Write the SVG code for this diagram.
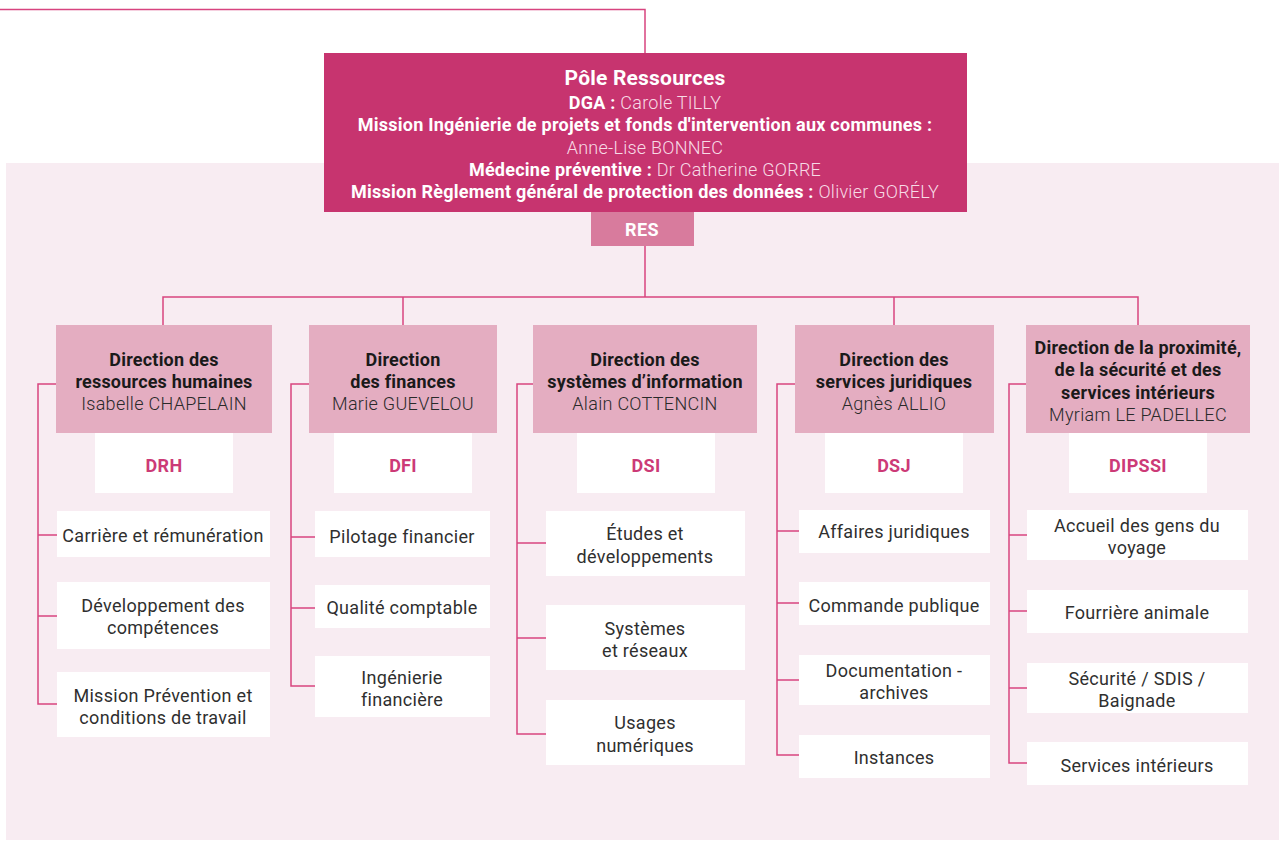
<svg xmlns="http://www.w3.org/2000/svg" width="1279" height="843" viewBox="0 0 1279 843">
<style>
.bg{fill:#f8ecf2}
.pole{fill:#c7346f}
.res{fill:#d87b9d}
.dir{fill:#e4adc1}
.w{fill:#ffffff}
.ln{fill:none;stroke:#d8447f;stroke-width:1.5}
text{font-family:Roboto,"Liberation Sans",sans-serif;text-anchor:middle;dominant-baseline:central}
.pt{font-size:21px;font-weight:700;fill:#ffffff;letter-spacing:0.2px}
.pb{font-size:18px;font-weight:700;fill:#ffffff;letter-spacing:0.25px}
.pl{font-size:18px;font-weight:300;fill:#f7dbe6;letter-spacing:0.25px}
.resT{font-size:18px;font-weight:700;fill:#ffffff;letter-spacing:0.5px}
.db{font-size:18px;font-weight:700;fill:#1a1a1a;letter-spacing:0.2px}
.dn{font-size:18px;font-weight:300;fill:#2a2a2a;letter-spacing:0.3px}
.code{font-size:18px;font-weight:700;fill:#cc3a77;letter-spacing:0.3px}
.it{font-size:18px;font-weight:400;fill:#2f2f2f;letter-spacing:0.3px}
</style>
<rect class="bg" x="6" y="163" width="1273" height="677"/>
<g id="connectors">
<polyline class="ln" points="0,9.5 645,9.5 645,53"/>
<line class="ln" x1="645" y1="245" x2="645" y2="297"/>
<polyline class="ln" points="163,325 163,297 1138,297 1138,325"/>
<line class="ln" x1="403" y1="297" x2="403" y2="325"/>
<line class="ln" x1="894" y1="297" x2="894" y2="325"/>
<polyline class="ln" points="56,384 38,384 38,704 57,704"/>
<line class="ln" x1="38" y1="535" x2="57" y2="535"/>
<line class="ln" x1="38" y1="616" x2="57" y2="616"/>
<polyline class="ln" points="309,384 291,384 291,686 315,686"/>
<line class="ln" x1="291" y1="537" x2="315" y2="537"/>
<line class="ln" x1="291" y1="608" x2="315" y2="608"/>
<polyline class="ln" points="533,384 517,384 517,734 546,734"/>
<line class="ln" x1="517" y1="543" x2="546" y2="543"/>
<line class="ln" x1="517" y1="638" x2="546" y2="638"/>
<polyline class="ln" points="795,384 777,384 777,755 799,755"/>
<line class="ln" x1="777" y1="531" x2="799" y2="531"/>
<line class="ln" x1="777" y1="603" x2="799" y2="603"/>
<line class="ln" x1="777" y1="680" x2="799" y2="680"/>
<polyline class="ln" points="1026,384 1009,384 1009,763 1027,763"/>
<line class="ln" x1="1009" y1="535" x2="1027" y2="535"/>
<line class="ln" x1="1009" y1="611" x2="1027" y2="611"/>
<line class="ln" x1="1009" y1="688" x2="1027" y2="688"/>
</g>
<g id="pole">
<rect class="pole" x="324" y="53" width="643" height="159"/>
<text class="pt" x="645" y="78">Pôle Ressources</text>
<text x="645" y="102"><tspan class="pb">DGA : </tspan><tspan class="pl">Carole TILLY</tspan></text>
<text class="pb" x="645" y="124">Mission Ingénierie de projets et fonds d'intervention aux communes :</text>
<text class="pl" x="645" y="147">Anne-Lise BONNEC</text>
<text x="645" y="169"><tspan class="pb">Médecine préventive : </tspan><tspan class="pl">Dr Catherine GORRE</tspan></text>
<text x="645" y="191"><tspan class="pb">Mission Règlement général de protection des données : </tspan><tspan class="pl">Olivier GORÉLY</tspan></text>
</g>
<g id="res">
<rect class="res" x="591" y="212" width="103" height="34"/>
<text class="resT" x="642" y="229">RES</text>
</g>
<g id="drh">
<rect class="dir" x="56" y="325" width="216" height="108"/>
<text class="db" x="164" y="359">Direction des</text>
<text class="db" x="164" y="381">ressources humaines</text>
<text class="dn" x="164" y="403">Isabelle CHAPELAIN</text>
<rect class="w" x="95" y="433" width="138" height="60"/>
<text class="code" x="164" y="465">DRH</text>
</g>
<g id="dfi">
<rect class="dir" x="309" y="325" width="188" height="108"/>
<text class="db" x="403" y="359">Direction</text>
<text class="db" x="403" y="381">des finances</text>
<text class="dn" x="403" y="403">Marie GUEVELOU</text>
<rect class="w" x="334" y="433" width="138" height="60"/>
<text class="code" x="403" y="465">DFI</text>
</g>
<g id="dsi">
<rect class="dir" x="533" y="325" width="224" height="108"/>
<text class="db" x="645" y="359">Direction des</text>
<text class="db" x="645" y="381">systèmes d’information</text>
<text class="dn" x="645" y="403">Alain COTTENCIN</text>
<rect class="w" x="577" y="433" width="138" height="60"/>
<text class="code" x="646" y="465">DSI</text>
</g>
<g id="dsj">
<rect class="dir" x="795" y="325" width="199" height="108"/>
<text class="db" x="894" y="359">Direction des</text>
<text class="db" x="894" y="381">services juridiques</text>
<text class="dn" x="894" y="403">Agnès ALLIO</text>
<rect class="w" x="825" y="433" width="138" height="60"/>
<text class="code" x="894" y="465">DSJ</text>
</g>
<g id="dipssi">
<rect class="dir" x="1026" y="325" width="224" height="108"/>
<text class="db" x="1138" y="347">Direction de la proximité,</text>
<text class="db" x="1138" y="369">de la sécurité et des</text>
<text class="db" x="1138" y="392">services intérieurs</text>
<text class="dn" x="1138" y="414">Myriam LE PADELLEC</text>
<rect class="w" x="1069" y="433" width="138" height="60"/>
<text class="code" x="1138" y="465">DIPSSI</text>
</g>
<g id="drh-items">
<rect class="w" x="57" y="511" width="213" height="46"/>
<text class="it" x="163" y="535">Carrière et rémunération</text>
<rect class="w" x="57" y="582" width="213" height="67"/>
<text class="it" x="163" y="605">Développement des</text>
<text class="it" x="163" y="627">compétences</text>
<rect class="w" x="57" y="672" width="213" height="65"/>
<text class="it" x="163" y="695">Mission Prévention et</text>
<text class="it" x="163" y="717">conditions de travail</text>
</g>
<g id="dfi-items">
<rect class="w" x="315" y="511" width="175" height="46"/>
<text class="it" x="402" y="536">Pilotage financier</text>
<rect class="w" x="315" y="585" width="175" height="43"/>
<text class="it" x="402" y="607">Qualité comptable</text>
<rect class="w" x="315" y="656" width="175" height="61"/>
<text class="it" x="402" y="677">Ingénierie</text>
<text class="it" x="402" y="699">financière</text>
</g>
<g id="dsi-items">
<rect class="w" x="546" y="511" width="199" height="65"/>
<text class="it" x="645" y="533">Études et</text>
<text class="it" x="645" y="556">développements</text>
<rect class="w" x="546" y="605" width="199" height="65"/>
<text class="it" x="645" y="628">Systèmes</text>
<text class="it" x="645" y="650">et réseaux</text>
<rect class="w" x="546" y="700" width="199" height="65"/>
<text class="it" x="645" y="722">Usages</text>
<text class="it" x="645" y="745">numériques</text>
</g>
<g id="dsj-items">
<rect class="w" x="799" y="510" width="191" height="43"/>
<text class="it" x="894" y="531">Affaires juridiques</text>
<rect class="w" x="799" y="582" width="191" height="43"/>
<text class="it" x="894" y="605">Commande publique</text>
<rect class="w" x="799" y="655" width="191" height="50"/>
<text class="it" x="894" y="670">Documentation -</text>
<text class="it" x="894" y="692">archives</text>
<rect class="w" x="799" y="735" width="191" height="43"/>
<text class="it" x="894" y="757">Instances</text>
</g>
<g id="dipssi-items">
<rect class="w" x="1027" y="510" width="221" height="50"/>
<text class="it" x="1137" y="525">Accueil des gens du</text>
<text class="it" x="1137" y="547">voyage</text>
<rect class="w" x="1027" y="590" width="221" height="43"/>
<text class="it" x="1137" y="612">Fourrière animale</text>
<rect class="w" x="1027" y="663" width="221" height="50"/>
<text class="it" x="1137" y="678">Sécurité / SDIS /</text>
<text class="it" x="1137" y="700">Baignade</text>
<rect class="w" x="1027" y="742" width="221" height="43"/>
<text class="it" x="1137" y="765">Services intérieurs</text>
</g>
</svg>
